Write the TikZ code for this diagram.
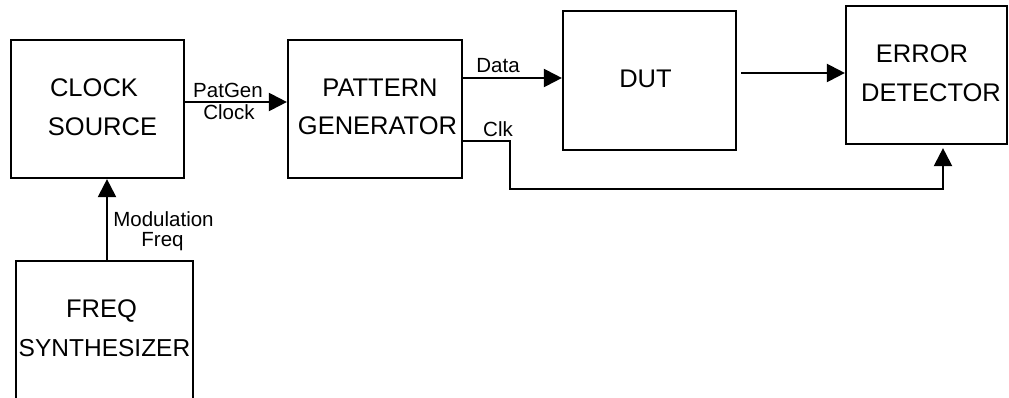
\documentclass[tikz,border=0pt]{standalone}
\usepackage{fontspec}
\setmainfont{Liberation Sans}
\usetikzlibrary{arrows.meta}
\tikzset{
  blk/.style={draw, line width=2.2pt, inner sep=0pt},
  big/.style={font=\fontsize{25.5}{30}\selectfont, inner sep=0pt, anchor=base},
  small/.style={font=\fontsize{20.5}{24}\selectfont, inner sep=0pt, anchor=base},
  arr/.style={line width=2.2pt, -{Triangle[length=18pt,width=18pt]}}
}
\begin{document}
\begin{tikzpicture}[x=1pt, y=-1pt]
  \clip (0,0) rectangle (1009,398);
  \fill[white] (0,0) rectangle (1009,398);

  % blocks
  \node[blk, minimum width=173pt, minimum height=138pt] (clk) at (97.5,109) {};
  \node[blk, minimum width=174pt, minimum height=138pt] (pg)  at (375,109) {};
  \node[blk, minimum width=173pt, minimum height=139pt] (dut) at (649.5,80.5) {};
  \node[blk, minimum width=161pt, minimum height=138pt] (ed)  at (926.5,75) {};
  \node[blk, minimum width=177pt, minimum height=180pt] (fs)  at (104.5,351) {};

  % block texts
  \node[big] (clkA) at (94,96.7)   {CLOCK};
  \node[big] (clkB) at (102.5,136) {SOURCE};
  \node[big] (pgA)  at (380,96.7)  {PATTERN};
  \node[big] (pgB)  at (377.5,135) {GENERATOR};
  \node[big] (dutA) at (645.5,88)  {DUT};
  \node[big] (edA)  at (922,63)    {ERROR};
  \node[big] (edB)  at (931,101.7) {DETECTOR};
  \node[big] (fsA)  at (101.5,317.7) {FREQ};
  \node[big, font=\fontsize{24.5}{30}\selectfont] (fsB)  at (104.5,356.7) {SYNTHESIZER};

  % connectors
  \draw[arr] (clk.east |- 0,102) -- (pg.west |- 0,102);
  \draw[arr] (pg.east |- 0,78) -- (dut.west |- 0,78);
  \coordinate (dutout) at ([xshift=4pt]dut.east |- 0,73);
  \draw[arr] (dutout) -- (ed.west |- 0,73);
  \coordinate (clkturnA) at (510,141);
  \coordinate (clkturnB) at (510,189);
  \coordinate (clkturnC) at (943,189);
  \draw[arr, shorten >=3pt] (pg.east |- clkturnA) -- (clkturnA) -- (clkturnB) -- (clkturnC) -- (clkturnC |- ed.south);
  \draw[arr] (fs.north -| 107,0) -- (clk.south -| 107,0);

  % connector labels
  \node[small] (lpa) at (228,97.5)  {PatGen};
  \node[small] (lpb) at (229,120) {Clock};
  \node[small] (ldata) at (498,73) {Data};
  \node[small] (lclk)  at (498,137) {Clk};
  \node[small] (lma) at (163.5,226) {Modulation};
  \node[small] (lmb) at (162.5,246)   {Freq};
\end{tikzpicture}
\end{document}
